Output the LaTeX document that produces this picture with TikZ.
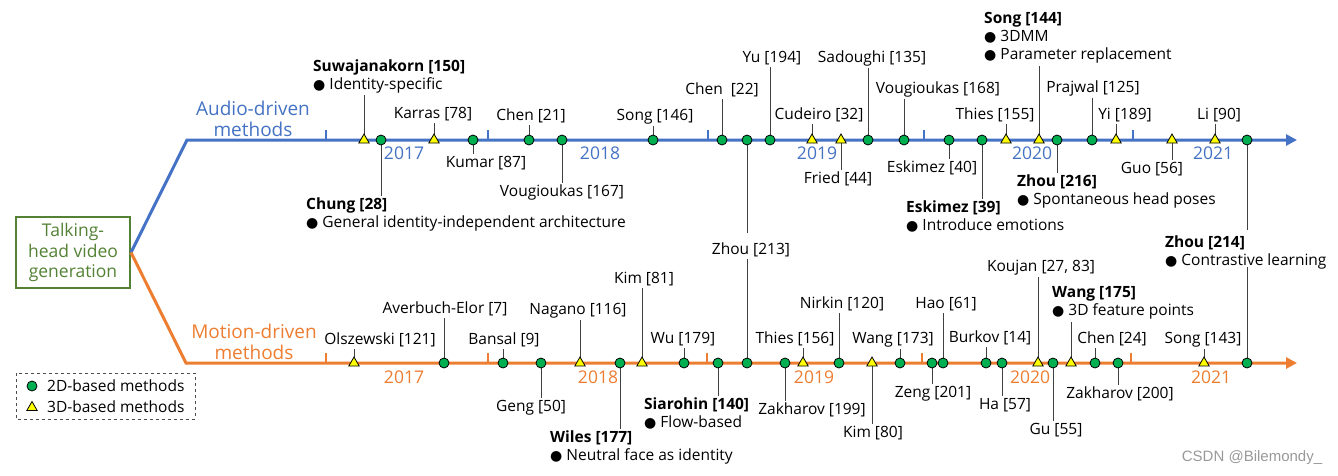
\documentclass[tikz,border=0pt]{standalone}
\usepackage{fontspec}
\setmainfont{Open Sans}
\newfontfamily\dvfont{DejaVu Sans}
\newfontfamily\wmfont{Liberation Sans}
\usetikzlibrary{arrows.meta,shapes.geometric}
\definecolor{ablue}{HTML}{4472C4}
\definecolor{morange}{HTML}{ED7D31}
\definecolor{tgreen}{HTML}{548235}
\definecolor{mgreen}{HTML}{00B050}
\definecolor{myellow}{HTML}{FFFF00}
\newcommand\bul{{\dvfont\fontsize{14}{14}\selectfont ●}\ }
\tikzset{
 lbl/.style={font=\fontsize{15.5}{18}\selectfont, anchor=base, inner sep=2pt},
 blk/.style={font=\fontsize{15.5}{18}\selectfont, anchor=north west, align=left, inner sep=2pt},
 stem/.style={draw=black!75, line width=0.9pt},
 dd/.style={circle, draw=black, line width=0.8pt, fill=mgreen, minimum size=10pt, inner sep=0pt},
 tt/.style={regular polygon, regular polygon sides=3, draw=black, line width=0.8pt, fill=myellow, minimum size=12pt, inner sep=0pt},
 yrA/.style={text=ablue, font=\fontsize{17.5}{20}\selectfont, inner sep=0pt},
 yrM/.style={text=morange, font=\fontsize{17.5}{20}\selectfont, inner sep=0pt},
 tickA/.style={draw=ablue, line width=2.5pt},
 tickM/.style={draw=morange, line width=2.5pt},
 grp/.style={align=center, font=\fontsize{19}{21.5}\selectfont, inner sep=0pt},
}
\newcommand\evU[7]{\coordinate (#1p) at (#3,#4); \node[lbl] (#1) at (#5,#6) {#7}; \draw[stem] (#1p) -- (#1p |- #1.south); \node[#2] (#1m) at (#1p) {};}
\newcommand\evD[7]{\coordinate (#1p) at (#3,#4); \node[lbl] (#1) at (#5,#6) {#7}; \draw[stem] (#1p) -- (#1p |- #1.north); \node[#2] (#1m) at (#1p) {};}
\newcommand\blU[7]{\coordinate (#1p) at (#3,#4); \node[blk] (#1) at (#5,#6) {#7}; \draw[stem] (#1p) -- (#1p |- #1.south); \node[#2] (#1m) at (#1p) {};}
\newcommand\blD[7]{\coordinate (#1p) at (#3,#4); \node[blk] (#1) at (#5,#6) {#7}; \draw[stem] (#1p) -- (#1p |- #1.north); \node[#2] (#1m) at (#1p) {};}
\begin{document}
\begin{tikzpicture}[x=1pt,y=-1pt]
\useasboundingbox (0,0) rectangle (1338,475);
% title
\node[draw=tgreen, line width=2pt, fill=white, text=tgreen, align=center, minimum width=114pt, minimum height=71pt, inner sep=0pt, font=\fontsize{17.5}{20.5}\selectfont] (title) at (73,252.5) {Talking-\\head video\\generation};
% main lines
\coordinate (abend) at (187,140);
\coordinate (aend) at (1297,140);
\coordinate (mbend) at (186,363);
\coordinate (mend) at (1297,363);
\draw[draw=ablue, line width=3pt, -{Triangle[length=11pt,width=11pt]}] (title.east) -- (abend) -- (aend);
\draw[draw=morange, line width=3pt, -{Triangle[length=11pt,width=11pt]}] (title.east) -- (mbend) -- (mend);
\node[grp, text=ablue] (audio) at (253,119) {Audio-driven\\methods};
\node[grp, text=morange] (motion) at (254,342) {Motion-driven\\methods};
% ticks
\foreach \x in {326,488,708,924,1133} {\draw[tickA] (\x,140) -- (\x,130);}
\foreach \x in {326,488,707,922,1131} {\draw[tickM] (\x,363) -- (\x,353);}
% years
\node[yrA] (ya17) at (404,153) {2017};
\node[yrA] (ya18) at (600,153) {2018};
\node[yrA] (ya19) at (817,153) {2019};
\node[yrA] (ya20) at (1032,153) {2020};
\node[yrA] (ya21) at (1213,153) {2021};
\node[yrM] (ym17) at (404,377) {2017};
\node[yrM] (ym18) at (598,377) {2018};
\node[yrM] (ym19) at (814,377) {2019};
\node[yrM] (ym20) at (1030,377) {2020};
\node[yrM] (ym21) at (1211,377) {2021};
% audio-driven events
\evU{karras}{tt}{434}{140}{433}{118.5}{Karras [78]}
\evU{chenA}{dd}{529}{140}{531}{120.5}{Chen [21]}
\evU{songA}{dd}{653}{140}{655}{120.5}{Song [146]}
\evU{chenB}{dd}{722}{140}{722}{94.5}{Chen\ \ [22]}
\evU{yu}{dd}{770}{140}{772}{62.5}{Yu [194]}
\evU{cudeiro}{tt}{812}{140}{819}{119.5}{Cudeiro [32]}
\evU{sadoughi}{dd}{868}{140}{872}{62.5}{Sadoughi [135]}
\evU{vougB}{dd}{904}{140}{938}{93.5}{Vougioukas [168]}
\evU{thiesA}{tt}{1006}{140}{995}{119.5}{Thies [155]}
\evU{prajwal}{dd}{1092}{140}{1093}{92.5}{Prajwal [125]}
\evU{yi}{tt}{1116}{140}{1125}{119.5}{Yi [189]}
\evU{li}{tt}{1215}{140}{1219}{119.5}{Li [90]}
\evD{kumar}{dd}{473}{140}{486}{167.5}{Kumar [87]}
\evD{vougA}{dd}{562}{140}{562}{196.5}{Vougioukas [167]}
\evD{fried}{tt}{841}{140}{838}{183.5}{Fried [44]}
\evD{eskA}{dd}{949}{140}{932}{172.5}{Eskimez [40]}
\evD{guo}{tt}{1172}{140}{1152}{173.5}{Guo [56]}
\blU{suwa}{tt}{364}{140}{311}{57.5}{\textbf{Suwajanakorn [150]}\\\bul Identity-specific}
\blU{songB}{tt}{1039}{140}{982}{10.5}{\textbf{Song [144]}\\\bul 3DMM\\\bul Parameter replacement}
\blD{chung}{dd}{381}{140}{304}{195.5}{\textbf{Chung [28]}\\\bul General identity-independent architecture}
\blD{eskB}{dd}{982}{140}{904}{198.5}{\textbf{Eskimez [39]}\\\bul Introduce emotions}
\blD{zhouA}{dd}{1057}{140}{1015}{172.5}{\textbf{Zhou [216]}\\\bul Spontaneous head poses}
% shared events
\coordinate (z213a) at (747,140);
\coordinate (z213b) at (747,363);
\node[lbl] (z213) at (751,254.5) {Zhou [213]};
\draw[stem] (z213a) -- ([yshift=8pt]z213a |- z213.north);
\draw[stem] (z213b) -- (z213b |- z213.south);
\node[dd] (z213am) at (z213a) {};
\node[dd] (z213bm) at (z213b) {};
\coordinate (z214a) at (1247,140);
\coordinate (z214b) at (1247,363);
\node[blk] (z214) at (1163,233.5) {\textbf{Zhou [214]}\\\bul Contrastive learning};
\draw[stem] (z214a) -- ([yshift=4pt]z214a |- z214.north);
\draw[stem] (z214b) -- ([yshift=4pt]z214b |- z214.south);
\node[dd] (z214am) at (z214a) {};
\node[dd] (z214bm) at (z214b) {};
% motion-driven events
\evU{olsz}{tt}{354}{363}{380}{344.5}{Olszewski [121]}
\evU{averb}{dd}{444}{363}{445}{313.5}{Averbuch-Elor [7]}
\evU{bansal}{dd}{503}{363}{504}{344.5}{Bansal [9]}
\evU{nagano}{tt}{580}{363}{578}{314.5}{Nagano [116]}
\evU{kimA}{tt}{642}{363}{644}{283.5}{Kim [81]}
\evU{wu}{dd}{684}{363}{683}{343.5}{Wu [179]}
\evU{thiesB}{tt}{803}{363}{795}{343.5}{Thies [156]}
\evU{nirkin}{dd}{839}{363}{842}{308.5}{Nirkin [120]}
\evU{wangA}{dd}{900}{363}{893}{343.5}{Wang [173]}
\evU{hao}{dd}{943}{363}{946}{308.5}{Hao [61]}
\evU{burkov}{dd}{986}{363}{990}{342.5}{Burkov [14]}
\evU{koujan}{tt}{1038}{363}{1041}{271.5}{Koujan [27, 83]}
\evU{chenC}{dd}{1095}{363}{1112}{343.5}{Chen [24]}
\evU{songC}{tt}{1204}{363}{1203}{343.5}{Song [143]}
\blU{wangB}{tt}{1071}{363}{1050}{284.5}{\textbf{Wang [175]}\\\bul 3D feature points}
\evD{geng}{dd}{541}{363}{531}{411.5}{Geng [50]}
\evD{zakA}{dd}{785}{363}{812}{414.5}{Zakharov [199]}
\evD{kimB}{tt}{872}{363}{873}{437.5}{Kim [80]}
\evD{zeng}{dd}{932}{363}{933}{397.5}{Zeng [201]}
\evD{ha}{dd}{1002}{363}{1005}{409.5}{Ha [57]}
\evD{gu}{dd}{1053}{363}{1056}{434.5}{Gu [55]}
\evD{zakB}{dd}{1118}{363}{1120}{398.5}{Zakharov [200]}
\blD{wiles}{dd}{620}{363}{548}{428.5}{\textbf{Wiles [177]}\\\bul Neutral face as identity}
\blD{siar}{dd}{718}{363}{642}{395.5}{\textbf{Siarohin [140]}\\\bul Flow-based}
% legend
\draw[dashed, draw=black!70, line width=0.8pt] (16,373) rectangle (195,419);
\node[dd] (lg1) at (32,386) {};
\node[tt] (lg2) at (32,407.5) {};
\node[lbl, anchor=west] (lt1) at (45,386) {2D-based methods};
\node[lbl, anchor=west] (lt2) at (45,407) {3D-based methods};
% watermark
\node[text=black!40, font=\wmfont\fontsize{15}{18}\selectfont, inner sep=0pt] (wm) at (1252,458) {CSDN @Bilemondy\_};
\end{tikzpicture}
\end{document}
